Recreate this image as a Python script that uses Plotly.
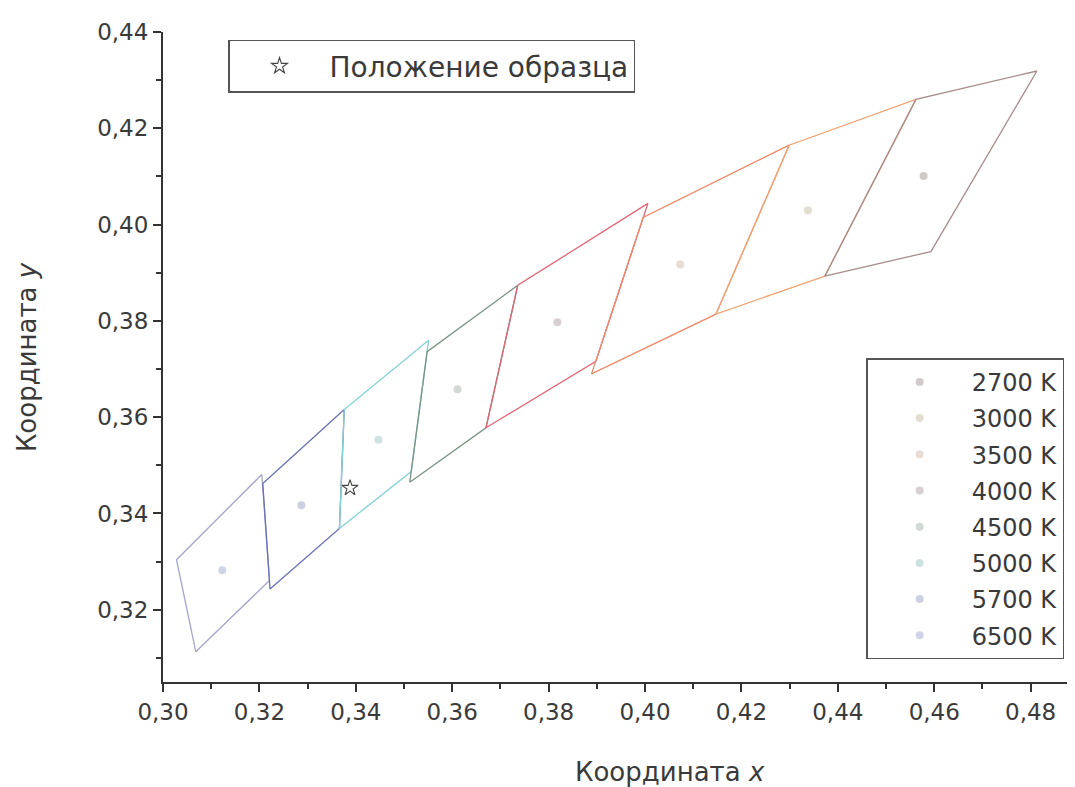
import plotly.graph_objects as go

# CCT categories (legend order)
cct_labels = ["2700 K", "3000 K", "3500 K", "4000 K", "4500 K", "5000 K", "5700 K", "6500 K"]

# Nominal centre points
center_x = [0.4578, 0.4338, 0.4073, 0.3818, 0.3611, 0.3447, 0.3287, 0.3123]
center_y = [0.4101, 0.4030, 0.3917, 0.3797, 0.3658, 0.3553, 0.3417, 0.3282]

# Quadrangle corners per CCT
quad_x = [
    [0.4813, 0.4562, 0.4373, 0.4593],
    [0.4562, 0.4299, 0.4147, 0.4373],
    [0.4299, 0.3996, 0.3889, 0.4147],
    [0.4006, 0.3736, 0.3670, 0.3898],
    [0.3736, 0.3548, 0.3512, 0.3670],
    [0.3551, 0.3376, 0.3366, 0.3515],
    [0.3376, 0.3207, 0.3222, 0.3366],
    [0.3205, 0.3028, 0.3068, 0.3221],
]
quad_y = [
    [0.4319, 0.4260, 0.3893, 0.3944],
    [0.4260, 0.4165, 0.3814, 0.3893],
    [0.4165, 0.4015, 0.3690, 0.3814],
    [0.4044, 0.3874, 0.3578, 0.3716],
    [0.3874, 0.3736, 0.3465, 0.3578],
    [0.3760, 0.3616, 0.3369, 0.3487],
    [0.3616, 0.3462, 0.3243, 0.3369],
    [0.3481, 0.3304, 0.3113, 0.3261],
]

# Sample position
sample_x = [0.3388]
sample_y = [0.3453]
sample_label = "Положение образца"

line_colors = ["#a88c8c", "#f0a676", "#ee8a6a", "#e26678", "#7a9284", "#82d4d4", "#6a70b4", "#a4a4cc"]
dot_colors = ["#d2caca", "#e2ded2", "#e8dcd4", "#d8cfd2", "#d2d8d4", "#cfe2e2", "#cdd0e2", "#d0d4e8"]

fig = go.Figure()

# Quadrangles, drawn 6500 K first to 2700 K last
for i in reversed(range(len(cct_labels))):
    fig.add_trace(go.Scatter(
        x=quad_x[i] + [quad_x[i][0]], y=quad_y[i] + [quad_y[i][0]],
        mode="lines", line=dict(color=line_colors[i], width=1.3),
        showlegend=False, hoverinfo="skip"))

# Centre points (legend)
for i, lab in enumerate(cct_labels):
    fig.add_trace(go.Scatter(
        x=[center_x[i]], y=[center_y[i]], mode="markers", name=lab,
        legendgroup=lab,
        marker=dict(color=dot_colors[i], size=8, symbol="circle"),
        legend="legend"))

# Sample star
fig.add_trace(go.Scatter(
    x=sample_x, y=sample_y, mode="markers", name=sample_label,
    marker=dict(symbol="star-open", size=12, color="#444", line=dict(width=1.1, color="#444")),
    legend="legend2"))

font_fam = "DejaVu Sans, Liberation Sans, Arial, sans-serif"
txt_col = "#3a3a3a"
axis_common = dict(
    showline=True, linecolor="#333", linewidth=2, mirror=False,
    ticks="outside", ticklen=8, tickwidth=2, tickcolor="#333",
    showgrid=False, zeroline=False, tickformat=".2f",
    tickfont=dict(family=font_fam, size=23, color=txt_col),
)

fig.update_layout(
    width=1075, height=787,
    margin=dict(l=155, r=8, t=24, b=113),
    paper_bgcolor="white", plot_bgcolor="white",
    separators=", ",
    font=dict(family=font_fam, color=txt_col),
    xaxis=dict(range=[0.30, 0.4892], dtick=0.02, tick0=0.30,
               minor=dict(ticks="outside", ticklen=5, tickwidth=2, tickcolor="#333", dtick=0.01),
               **axis_common),
    yaxis=dict(range=[0.305, 0.44], dtick=0.02, tick0=0.30,
               minor=dict(ticks="outside", ticklen=5, tickwidth=2, tickcolor="#333", dtick=0.01),
               **axis_common),
    legend=dict(x=0.771, y=0.498, xanchor="left", yanchor="top",
                bordercolor="#555", borderwidth=1.5, bgcolor="white",
                font=dict(family=font_fam, size=24, color=txt_col),
                tracegroupgap=2, itemwidth=94),
    legend2=dict(x=0.0713, y=0.988, xanchor="left", yanchor="top",
                 bordercolor="#555", borderwidth=1.5, bgcolor="white",
                 font=dict(family=font_fam, size=28, color=txt_col),
                 itemwidth=90),
    annotations=[
        dict(text="Координата <i>x</i>", x=0.556, y=-0.138, xref="paper", yref="paper",
             xanchor="center", yanchor="middle", showarrow=False,
             font=dict(family=font_fam, size=26, color=txt_col)),
        dict(text="Координата <i>y</i>", x=-0.149, y=0.5, xref="paper", yref="paper",
             xanchor="center", yanchor="middle", showarrow=False, textangle=-90,
             font=dict(family=font_fam, size=26, color=txt_col)),
    ],
)

fig.write_html("out.html")
